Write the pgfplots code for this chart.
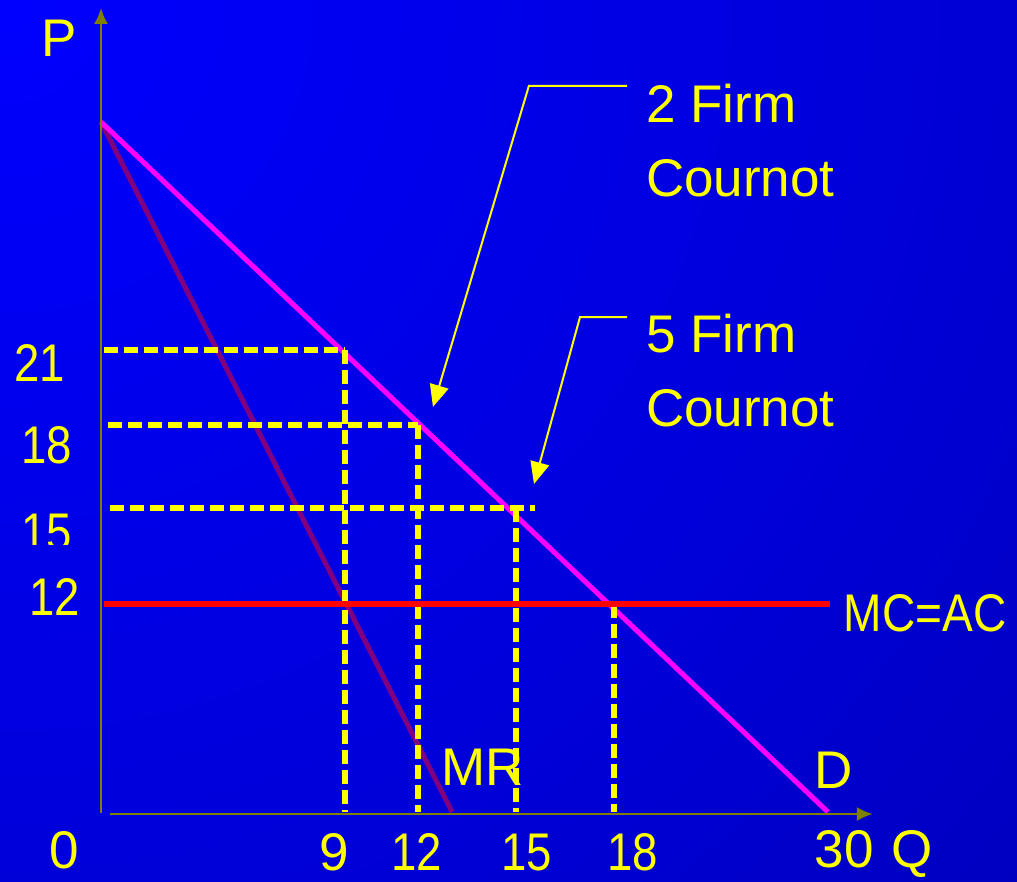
\documentclass[border=0pt]{standalone}
\usepackage{pgfplots}
\pgfplotsset{compat=1.18}
\usepackage{graphicx}
\usepackage{fontspec}
\setmainfont{Liberation Sans}
\usetikzlibrary{arrows.meta}
\definecolor{axisolive}{RGB}{128,128,0}
\definecolor{mrpurple}{RGB}{128,0,128}
\definecolor{dmag}{RGB}{255,0,255}
\definecolor{myyellow}{RGB}{255,255,0}
\definecolor{myred}{RGB}{255,0,0}
\pgfdeclareradialshading{bgshade}{\pgfpointorigin}{rgb(0bp)=(0,0,1); rgb(17.6bp)=(0,0,0.84); rgb(30bp)=(0,0,0.70); rgb(37.8bp)=(0,0,0.62); rgb(50bp)=(0,0,0.57)}
\tikzset{lbl/.style={text=myyellow, inner sep=0pt, anchor=base west}}
\newcommand{\nar}[1]{\scalebox{0.86}[1]{#1}}
\begin{document}
\begin{tikzpicture}[font=\fontsize{26.5pt}{30pt}\selectfont]
\begin{axis}[scale only axis, width=508.5pt, height=441pt,
  xmin=-4.168, xmax=37.804, ymin=-3.043, ymax=35.304,
  hide axis, clip=true]
% background
\shade[shading=bgshade] (axis cs:-4.168,35.304) circle[radius=673pt];
% MR and demand
\addplot[mrpurple, line width=2.5pt] coordinates {(0,30) (14.49,0)};
\addplot[dmag, line width=2.5pt] coordinates {(0,30) (30,0)};
% dashed guides
\addplot[myyellow, line width=3pt, dash pattern=on 7pt off 3pt] coordinates {(0.12,20.09) (10.07,20.09)};
\addplot[myyellow, line width=3pt, dash pattern=on 7pt off 3pt] coordinates {(10.07,20.09) (10.07,0)};
\addplot[myyellow, line width=3pt, dash pattern=on 7pt off 3pt] coordinates {(0.29,16.83) (13.08,16.83)};
\addplot[myyellow, line width=3pt, dash pattern=on 7pt off 3pt] coordinates {(13.08,16.83) (13.08,0)};
\addplot[myyellow, line width=3pt, dash pattern=on 7pt off 3pt] coordinates {(0.37,13.22) (17.91,13.22)};
\addplot[myyellow, line width=3pt, dash pattern=on 7pt off 3pt] coordinates {(17.13,13.22) (17.13,0)};
\addplot[myyellow, line width=3pt, dash pattern=on 7pt off 3pt] coordinates {(21.17,9.04) (21.17,0)};
% MC = AC
\addplot[myred, line width=3pt] coordinates {(0.12,9.04) (30.09,9.04)};
% axes
\draw[axisolive, line width=1.3pt, -{Latex[length=8pt,width=7pt]}] (axis cs:0,-0.04) -- (axis cs:0,34.96);
\draw[axisolive, line width=1.3pt, -{Latex[length=8pt,width=7pt]}] (axis cs:0.37,-0.087) -- (axis cs:31.86,-0.087);
% annotation arrows
\draw[myyellow, line width=1pt, -{Triangle[length=11pt,width=9.5pt]}] (axis cs:21.71,31.57) -- (axis cs:17.66,31.57) -- (axis cs:13.70,17.61);
\draw[myyellow, line width=1pt, -{Triangle[length=11pt,width=9.5pt]}] (axis cs:21.71,21.52) -- (axis cs:19.77,21.52) -- (axis cs:17.87,14.26);
% labels
\node[lbl] at (axis cs:-2.49,32.83) {P};
\node[lbl] at (axis cs:-3.60,18.70) {\nar{21}};
\node[lbl] at (axis cs:-3.30,15.17) {\nar{18}};
\begin{scope}
\clip (axis cs:-4.168,11.61) rectangle (axis cs:0,14.5);
\node[lbl] at (axis cs:-3.30,11.39) {\nar{15}};
\end{scope}
\node[lbl] at (axis cs:-2.98,8.565) {\nar{12}};
\node[lbl] at (axis cs:-2.16,-2.47) {0};
\node[lbl] at (axis cs:9.02,-2.55) {9};
\node[lbl] at (axis cs:11.96,-2.55) {\nar{12}};
\node[lbl] at (axis cs:16.50,-2.55) {\nar{15}};
\node[lbl] at (axis cs:20.87,-2.55) {\nar{18}};
\node[lbl] at (axis cs:29.45,-2.40) {30};
\node[lbl] at (axis cs:32.59,-2.40) {Q};
\node[lbl] at (axis cs:29.45,1.043) {D};
\node[lbl] at (axis cs:14.05,1.174) {MR};
\node[lbl] at (axis cs:30.64,7.826) {\scalebox{0.87}[1]{MC=AC}};
\node[lbl] at (axis cs:22.48,29.96) {2 Firm};
\node[lbl] at (axis cs:22.48,26.74) {Cournot};
\node[lbl] at (axis cs:22.48,19.96) {5 Firm};
\node[lbl] at (axis cs:22.48,16.74) {Cournot};
\end{axis}
\pgfresetboundingbox
\useasboundingbox (current axis.south west) rectangle (current axis.north east);
\end{tikzpicture}
\end{document}
